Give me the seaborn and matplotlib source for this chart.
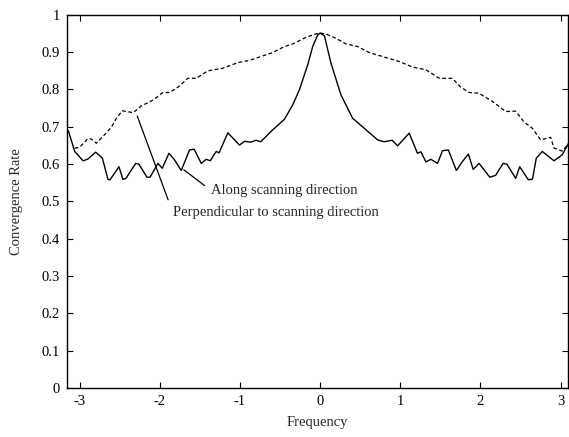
import matplotlib
matplotlib.use("Agg")
import matplotlib.pyplot as plt
import pandas as pd
import seaborn as sns

# values
along_freq = [-3.14, -3.06, -2.956, -2.9, -2.798, -2.715, -2.645, -2.62, -2.508, -2.458,
              -2.42, -2.30, -2.26, -2.159, -2.12, -2.022, -1.968, -1.885, -1.82, -1.731,
              -1.628, -1.57, -1.482, -1.42, -1.37, -1.295, -1.26, -1.15, -1.005, -0.943,
              -0.86, -0.80, -0.74, -0.59, -0.445, -0.34, -0.258, -0.154, -0.092, -0.03,
              0.0, 0.054, 0.137, 0.26, 0.406, 0.552, 0.718, 0.80, 0.90, 0.967,
              1.112, 1.215, 1.258, 1.32, 1.382, 1.465, 1.527, 1.60, 1.70, 1.776,
              1.85, 1.91, 1.984, 2.117, 2.19, 2.283, 2.33, 2.44, 2.49, 2.598,
              2.65, 2.697, 2.772, 2.918, 3.02, 3.1]
along_rate = [0.69, 0.634, 0.609, 0.613, 0.632, 0.616, 0.559, 0.558, 0.593, 0.559,
              0.562, 0.602, 0.600, 0.565, 0.565, 0.602, 0.589, 0.629, 0.613, 0.583,
              0.638, 0.640, 0.602, 0.613, 0.609, 0.634, 0.630, 0.684, 0.651, 0.661,
              0.659, 0.664, 0.660, 0.692, 0.720, 0.759, 0.799, 0.866, 0.915, 0.946,
              0.951, 0.944, 0.870, 0.786, 0.723, 0.696, 0.665, 0.660, 0.664, 0.649,
              0.683, 0.629, 0.633, 0.606, 0.613, 0.602, 0.636, 0.638, 0.583, 0.607,
              0.627, 0.586, 0.602, 0.565, 0.570, 0.602, 0.600, 0.562, 0.593, 0.558,
              0.560, 0.616, 0.634, 0.609, 0.625, 0.656]

perp_freq = [-3.06, -3.0, -2.894, -2.85, -2.79, -2.707, -2.60, -2.54, -2.466, -2.416,
             -2.33, -2.23, -2.08, -1.96, -1.877, -1.773, -1.649, -1.544, -1.40, -1.213,
             -1.026, -0.88, -0.715, -0.59, -0.445, -0.34, -0.174, -0.05, 0.01, 0.07,
             0.2, 0.324, 0.47, 0.614, 0.80, 0.988, 1.153, 1.32, 1.486, 1.65,
             1.756, 1.86, 1.98, 2.15, 2.316, 2.44, 2.544, 2.648, 2.752, 2.876,
             2.918, 3.02, 3.08]
perp_rate = [0.643, 0.645, 0.669, 0.667, 0.656, 0.674, 0.700, 0.723, 0.743, 0.741,
             0.738, 0.756, 0.772, 0.792, 0.792, 0.806, 0.830, 0.830, 0.850, 0.857,
             0.872, 0.878, 0.890, 0.899, 0.915, 0.922, 0.940, 0.949, 0.951, 0.949,
             0.937, 0.922, 0.915, 0.899, 0.887, 0.875, 0.860, 0.853, 0.830, 0.830,
             0.806, 0.792, 0.790, 0.768, 0.741, 0.742, 0.713, 0.696, 0.665, 0.672,
             0.643, 0.635, 0.650]

x_ticks = [-3, -2, -1, 0, 1, 2, 3]
y_ticks = [0, 0.1, 0.2, 0.3, 0.4, 0.5, 0.6, 0.7, 0.8, 0.9, 1]
y_tick_labels = ["0", "0.1", "0.2", "0.3", "0.4", "0.5", "0.6", "0.7", "0.8", "0.9", "1"]

sns.set_style("ticks")
plt.rcParams["font.family"] = ["Liberation Serif", "DejaVu Serif"]
plt.rcParams["font.size"] = 10.5

df_along = pd.DataFrame({"Frequency": along_freq, "Convergence Rate": along_rate})
df_perp = pd.DataFrame({"Frequency": perp_freq, "Convergence Rate": perp_rate})

fig = plt.figure(figsize=(5.69, 4.37), dpi=100)
ax = fig.add_axes([0.1172, 0.112, 0.8814, 0.854])

sns.lineplot(data=df_along, x="Frequency", y="Convergence Rate", ax=ax,
             color="black", linewidth=1.0)
sns.lineplot(data=df_perp, x="Frequency", y="Convergence Rate", ax=ax,
             color="black", linewidth=0.9, dashes=False)
ax.lines[-1].set_dashes((3, 2))

ax.set_xlim(-3.16, 3.095)
ax.set_ylim(0, 1)
ax.set_xticks(x_ticks)
ax.set_xticklabels([str(t) for t in x_ticks])
ax.set_yticks(y_ticks)
ax.set_yticklabels(y_tick_labels)
ax.tick_params(direction="in", length=4, width=0.8, top=True, right=True,
               labelsize=10.5, colors="black")
ax.tick_params(axis="x", pad=5)
ax.tick_params(axis="y", pad=5)
for s in ax.spines.values():
    s.set_visible(True)
    s.set_linewidth(1.0)
    s.set_color("black")

ax.set_xlabel("Frequency", fontsize=10.5, labelpad=6)
ax.set_ylabel("Convergence Rate", fontsize=10.5, labelpad=13)

ax.annotate("Along scanning direction", xy=(-1.70, 0.585), xytext=(-1.357, 0.529),
            ha="left", va="center", fontsize=10.5,
            arrowprops=dict(arrowstyle="-", color="black", lw=0.9,
                            relpos=(0, 0.5), shrinkA=3, shrinkB=0))
ax.annotate("Perpendicular to scanning direction", xy=(-2.28, 0.729), xytext=(-1.836, 0.470),
            ha="left", va="center", fontsize=10.5,
            arrowprops=dict(arrowstyle="-", color="black", lw=0.9,
                            relpos=(0, 0.5), shrinkA=3, shrinkB=0))

fig.savefig("out.png", dpi=100)
